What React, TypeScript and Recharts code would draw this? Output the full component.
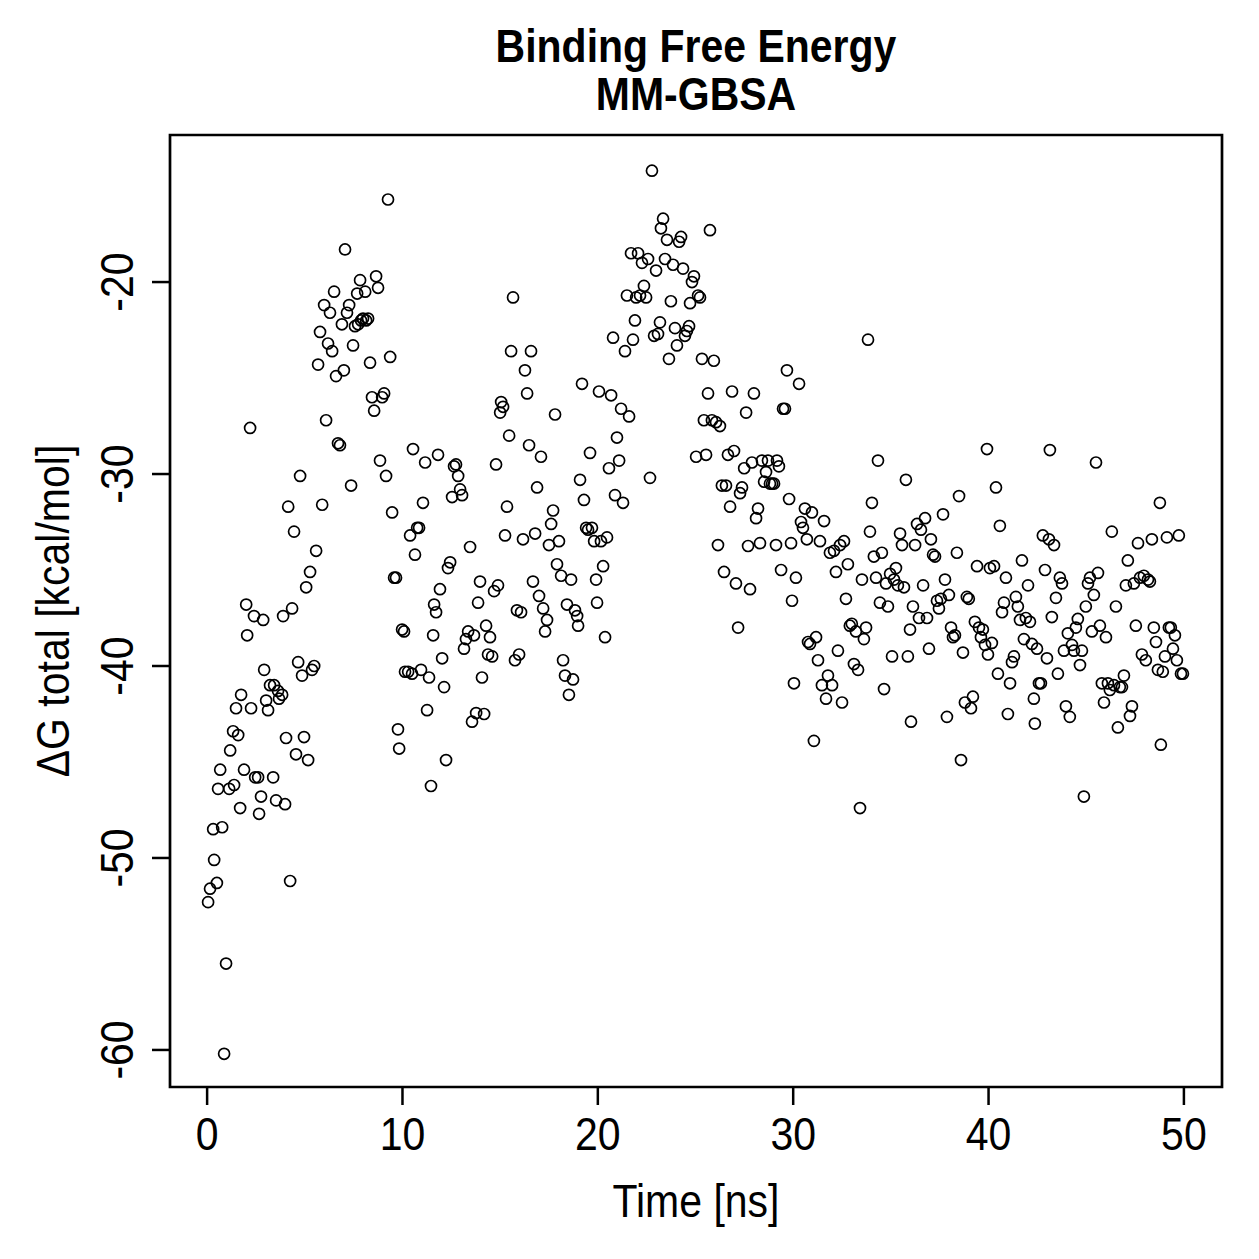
import { ReferenceArea, Scatter, ScatterChart, XAxis, YAxis } from "recharts";

// MM-GBSA binding free energy per frame: [time (ns), ΔG total (kcal/mol)]
const span00to05 = [
    [0.05, -52.3], [0.15, -51.6], [0.31, -48.5], [0.36, -50.1], [0.5, -51.3], [0.56, -46.4],
    [0.67, -45.4], [0.77, -48.4], [0.87, -60.2], [0.97, -55.5], [1.13, -46.4], [1.18, -44.4],
    [1.33, -43.4], [1.38, -46.2], [1.48, -42.2], [1.59, -43.6], [1.69, -47.4], [1.74, -41.5],
    [1.89, -45.4], [2.0, -36.8], [2.05, -38.4], [2.2, -27.6], [2.25, -42.2], [2.4, -37.4],
    [2.46, -45.8], [2.61, -45.8], [2.66, -47.7], [2.76, -46.8], [2.87, -37.6], [2.92, -40.2],
    [3.02, -41.8], [3.12, -42.3], [3.22, -41.0], [3.38, -45.8], [3.43, -41.0], [3.53, -47.0],
    [3.63, -41.3], [3.68, -41.7], [3.84, -41.5], [3.89, -37.4], [3.99, -47.2], [4.04, -43.75],
    [4.15, -31.7], [4.25, -51.2], [4.35, -37.0], [4.45, -33.0], [4.55, -44.6], [4.66, -39.8],
    [4.76, -30.1], [4.86, -40.5], [4.96, -43.7],
];

const span05to10 = [
    [5.07, -35.9], [5.17, -44.9], [5.27, -35.1], [5.37, -40.2], [5.48, -40.0], [5.58, -34.0],
    [5.68, -24.3], [5.78, -22.6], [5.89, -31.6], [5.99, -21.2], [6.09, -27.2], [6.19, -23.2],
    [6.29, -21.6], [6.4, -23.6], [6.5, -20.5], [6.6, -24.9], [6.7, -28.4], [6.8, -28.5],
    [6.9, -22.2], [7.0, -24.6], [7.06, -18.3], [7.16, -21.6], [7.27, -21.2], [7.37, -30.6],
    [7.47, -23.3], [7.57, -22.3], [7.68, -20.6], [7.73, -22.2], [7.83, -19.9], [7.88, -22.0],
    [7.98, -21.9], [8.09, -20.5], [8.14, -22.0], [8.24, -21.9], [8.34, -24.2], [8.44, -26.0],
    [8.55, -26.7], [8.65, -19.7], [8.75, -20.3], [8.85, -29.3], [8.96, -26.0], [9.06, -25.8],
    [9.16, -30.1], [9.26, -15.7], [9.37, -23.9], [9.47, -32.0], [9.57, -35.4], [9.67, -35.4],
    [9.77, -43.3], [9.83, -44.3], [9.98, -38.1],
];

const span10to15 = [
    [10.08, -38.2], [10.13, -40.3], [10.29, -40.3], [10.39, -33.2], [10.49, -40.4], [10.54, -28.7],
    [10.64, -34.2], [10.75, -32.8], [10.85, -32.8], [10.95, -40.2], [11.05, -31.5], [11.16, -29.4],
    [11.26, -42.3], [11.36, -40.6], [11.46, -46.25], [11.57, -38.4], [11.62, -36.8], [11.72, -37.2],
    [11.82, -29.0], [11.92, -36.0], [12.03, -39.6], [12.13, -41.1], [12.23, -44.9], [12.33, -34.9],
    [12.44, -34.6], [12.54, -31.2], [12.64, -29.6], [12.74, -29.5], [12.85, -30.1], [12.95, -30.8],
    [13.05, -31.1], [13.15, -39.1], [13.25, -38.6], [13.36, -38.2], [13.46, -33.8], [13.56, -42.9],
    [13.66, -38.4], [13.77, -42.45], [13.87, -36.7], [13.97, -35.6], [14.07, -40.6], [14.18, -42.5],
    [14.28, -37.9], [14.38, -39.4], [14.48, -38.5], [14.59, -39.5], [14.69, -36.1], [14.79, -29.5],
    [14.89, -35.8], [15.0, -26.8],
];

const span15to20 = [
    [15.05, -26.25], [15.15, -26.5], [15.25, -33.2], [15.35, -31.7], [15.46, -28.0], [15.56, -23.6],
    [15.66, -20.8], [15.76, -39.7], [15.86, -37.1], [15.97, -39.4], [16.07, -37.2], [16.17, -33.4],
    [16.27, -24.6], [16.38, -25.8], [16.48, -28.5], [16.58, -23.6], [16.68, -35.6], [16.79, -33.1],
    [16.89, -30.7], [16.99, -36.35], [17.09, -29.1], [17.2, -37.0], [17.3, -38.2], [17.4, -37.6],
    [17.5, -33.7], [17.61, -32.6], [17.71, -31.9], [17.81, -26.9], [17.91, -34.7], [18.01, -33.5],
    [18.12, -35.3], [18.22, -39.7], [18.32, -40.5], [18.42, -36.8], [18.52, -41.5], [18.63, -35.5],
    [18.73, -40.7], [18.83, -37.1], [18.94, -37.4], [18.99, -37.9], [19.09, -30.3], [19.19, -25.3],
    [19.29, -31.35], [19.4, -32.8], [19.5, -32.9], [19.6, -28.9], [19.7, -32.8], [19.81, -33.5],
    [19.91, -35.5], [19.96, -36.7],
];

const span20to25 = [
    [20.06, -25.7], [20.16, -33.5], [20.27, -34.8], [20.37, -38.5], [20.47, -33.3], [20.57, -29.7],
    [20.68, -25.9], [20.78, -22.9], [20.88, -31.1], [20.98, -28.1], [21.09, -29.3], [21.19, -26.6],
    [21.29, -31.5], [21.39, -23.6], [21.49, -20.7], [21.6, -27.0], [21.7, -18.5], [21.8, -23.0],
    [21.9, -22.0], [21.96, -20.8], [22.06, -18.5], [22.16, -20.7], [22.26, -19.0], [22.36, -20.2],
    [22.47, -20.8], [22.57, -18.8], [22.67, -30.2], [22.77, -14.2], [22.88, -22.8], [22.98, -19.4],
    [23.08, -22.7], [23.18, -22.1], [23.23, -17.2], [23.34, -16.7], [23.44, -18.8], [23.54, -17.8],
    [23.64, -24.0], [23.74, -21.0], [23.85, -19.1], [23.95, -22.4], [24.05, -23.3], [24.16, -17.9],
    [24.26, -17.65], [24.36, -19.3], [24.46, -22.8], [24.56, -22.55], [24.67, -22.3], [24.72, -21.1],
    [24.82, -20.0], [24.92, -19.7],
];

const span25to30 = [
    [25.03, -29.1], [25.13, -20.7], [25.23, -20.8], [25.33, -24.0], [25.43, -27.2], [25.54, -29.0],
    [25.64, -25.8], [25.74, -17.3], [25.84, -27.2], [25.94, -24.1], [26.05, -27.3], [26.15, -33.7],
    [26.25, -27.5], [26.35, -30.6], [26.46, -35.1], [26.56, -30.6], [26.66, -29.0], [26.77, -31.7],
    [26.87, -25.7], [26.97, -28.8], [27.07, -35.7], [27.18, -38.0], [27.28, -31.0], [27.38, -30.7],
    [27.49, -29.7], [27.59, -26.8], [27.69, -33.75], [27.79, -36.0], [27.89, -29.4], [27.99, -25.8],
    [28.1, -32.3], [28.2, -31.8], [28.3, -33.6], [28.4, -29.3], [28.51, -30.4], [28.61, -29.9],
    [28.71, -29.3], [28.81, -30.5], [28.92, -30.5], [29.02, -30.5], [29.12, -33.7], [29.17, -29.3],
    [29.27, -29.6], [29.38, -35.0], [29.48, -26.6], [29.58, -26.6], [29.68, -24.6], [29.79, -31.3],
    [29.89, -33.6], [29.94, -36.6],
];

const span30to35 = [
    [30.04, -40.9], [30.14, -35.4], [30.3, -25.3], [30.4, -32.5], [30.5, -32.8], [30.6, -31.8],
    [30.7, -33.4], [30.76, -38.75], [30.86, -38.85], [30.96, -32.0], [31.06, -43.9], [31.17, -38.5],
    [31.27, -39.7], [31.37, -33.5], [31.47, -41.0], [31.58, -32.45], [31.68, -41.7], [31.78, -40.5],
    [31.88, -34.1], [31.99, -41.0], [32.09, -34.0], [32.19, -35.1], [32.29, -39.2], [32.4, -33.7],
    [32.5, -41.9], [32.6, -33.5], [32.7, -36.5], [32.8, -34.7], [32.9, -37.9], [33.0, -37.8],
    [33.11, -39.9], [33.21, -38.2], [33.32, -40.2], [33.42, -47.4], [33.52, -35.5], [33.62, -38.6],
    [33.73, -38.0], [33.83, -23.0], [33.93, -33.0], [34.03, -31.5], [34.13, -34.3], [34.24, -35.4],
    [34.34, -29.3], [34.44, -36.7], [34.54, -34.1], [34.65, -41.2], [34.75, -35.7], [34.85, -36.9],
    [34.96, -35.2],
];

const span35to40 = [
    [35.06, -39.5], [35.16, -35.5], [35.26, -34.9], [35.36, -35.8], [35.47, -33.1], [35.57, -33.7],
    [35.67, -35.9], [35.77, -30.3], [35.87, -39.5], [35.98, -38.1], [36.03, -42.9], [36.13, -36.9],
    [36.24, -33.7], [36.34, -32.6], [36.44, -37.5], [36.54, -32.9], [36.65, -35.8], [36.75, -32.3],
    [36.85, -37.5], [36.95, -39.1], [37.05, -33.4], [37.16, -34.2], [37.26, -34.3], [37.36, -36.6],
    [37.46, -37.0], [37.56, -36.5], [37.67, -32.1], [37.77, -35.5], [37.87, -42.65], [37.97, -36.3],
    [38.08, -38.0], [38.18, -38.5], [38.28, -38.4], [38.38, -34.1], [38.49, -31.15], [38.59, -44.9],
    [38.69, -39.3], [38.79, -41.9], [38.89, -36.4], [38.99, -36.5], [39.1, -42.2], [39.2, -41.6],
    [39.3, -37.7], [39.41, -34.8], [39.51, -38.0], [39.61, -38.5], [39.71, -38.1], [39.82, -38.9],
    [39.92, -28.7], [39.97, -39.4],
];

const span40to45 = [
    [40.07, -34.9], [40.17, -38.8], [40.28, -34.8], [40.38, -30.7], [40.48, -40.4], [40.58, -32.7],
    [40.69, -37.2], [40.79, -36.7], [40.89, -35.4], [40.99, -42.5], [41.1, -40.9], [41.2, -39.8],
    [41.3, -39.5], [41.4, -36.4], [41.5, -36.9], [41.61, -37.6], [41.71, -34.5], [41.81, -38.6],
    [41.91, -37.5], [42.02, -35.8], [42.12, -37.7], [42.22, -38.85], [42.32, -41.7], [42.37, -43.0],
    [42.48, -39.1], [42.58, -40.9], [42.68, -40.9], [42.78, -33.2], [42.89, -35.0], [42.99, -39.6],
    [43.09, -33.4], [43.14, -28.75], [43.24, -37.45], [43.35, -33.7], [43.45, -36.45], [43.55, -40.4],
    [43.65, -35.4], [43.76, -35.7], [43.86, -39.2], [43.96, -42.1], [44.06, -38.3], [44.16, -42.65],
    [44.27, -38.9], [44.37, -39.2], [44.47, -38.0], [44.57, -37.55], [44.68, -39.95], [44.78, -39.2],
    [44.88, -46.8], [44.98, -36.9],
];

const span45to50 = [
    [45.09, -35.7], [45.19, -35.4], [45.29, -38.2], [45.39, -36.3], [45.5, -29.4], [45.6, -35.15],
    [45.7, -37.9], [45.8, -40.9], [45.91, -41.9], [46.01, -38.5], [46.11, -40.9], [46.21, -41.25],
    [46.31, -33.0], [46.42, -41.0], [46.52, -36.9], [46.62, -43.2], [46.72, -41.1], [46.83, -41.1],
    [46.93, -40.5], [47.03, -35.8], [47.13, -34.5], [47.24, -42.6], [47.34, -42.1], [47.44, -35.7],
    [47.54, -37.9], [47.65, -33.6], [47.75, -35.4], [47.85, -39.4], [47.95, -35.3], [48.05, -39.7],
    [48.16, -35.5], [48.26, -35.6], [48.36, -33.4], [48.46, -38.0], [48.57, -38.75], [48.67, -40.2],
    [48.77, -31.5], [48.82, -44.1], [48.92, -40.3], [49.03, -39.5], [49.13, -33.3], [49.23, -38.0],
    [49.33, -38.0], [49.44, -39.1], [49.54, -38.4], [49.64, -39.7], [49.74, -33.2], [49.85, -40.4],
    [49.95, -40.4],
];

const xTicks = [0, 10, 20, 30, 40, 50];
const yTicks = [-60, -50, -40, -30, -20];

// R-style axis limits: data range padded by 4% on each side
const xDomain = [-1.9, 51.95];
const yDomain = [-61.93, -12.34];

const frames = [
    ...span00to05, ...span05to10, ...span10to15, ...span15to20, ...span20to25,
    ...span25to30, ...span30to35, ...span35to40, ...span40to45, ...span45to50,
].map(([time, dG]) => ({ time, dG }));

const FONT = "'Liberation Sans', Arial, Helvetica, sans-serif";
const W = 1259;
const H = 1259;
// glyphs are drawn slightly taller than wide, like the R png device output
const STRETCH = 1.12;

// pch = 1: open circle
const openCircle = (props: any) => {
    if (props.cx == null || props.cy == null) return <g />;
    return <circle cx={props.cx} cy={props.cy} r={5.5} fill="none" stroke="#000" strokeWidth={1.7} />;
};

const Label = ({ x, y, angle = 0, bold = false, children }: any) => (
    <text
        transform={`translate(${x}, ${y}) rotate(${angle}) scale(1, ${STRETCH})`}
        textAnchor="middle"
        fontSize={41}
        fontWeight={bold ? "bold" : "normal"}
        fontFamily={FONT}
        fill="#000"
    >
        {children}
    </text>
);

const XTick = (props: any) => <Label x={props.x} y={1150}>{props.payload.value}</Label>;

const YTick = (props: any) => (
    <Label x={133} y={props.y} angle={-90}>
        {props.payload.value}
    </Label>
);

export default function App() {
    return (
        <div style={{ position: "absolute", left: 0, top: 0, width: W, height: H, background: "#fff" }}>
            <ScatterChart
                width={W}
                height={H}
                margin={{ top: 135, right: 37, bottom: 112, left: 110 }}
            >
                <XAxis
                    type="number"
                    dataKey="time"
                    domain={xDomain}
                    ticks={xTicks}
                    allowDataOverflow
                    height={60}
                    axisLine={false}
                    tickLine={{ stroke: "#000", strokeWidth: 2.5 }}
                    tickSize={18}
                    tick={<XTick />}
                    interval={0}
                />
                <YAxis
                    type="number"
                    dataKey="dG"
                    domain={yDomain}
                    ticks={yTicks}
                    allowDataOverflow
                    width={60}
                    axisLine={false}
                    tickLine={{ stroke: "#000", strokeWidth: 2.5 }}
                    tickSize={18}
                    tick={<YTick />}
                    interval={0}
                />
                <ReferenceArea
                    x1={xDomain[0]}
                    x2={xDomain[1]}
                    y1={yDomain[0]}
                    y2={yDomain[1]}
                    fill="none"
                    fillOpacity={0}
                    stroke="#000"
                    strokeWidth={2.7}
                    ifOverflow="visible"
                />
                <Scatter data={frames} shape={openCircle} isAnimationActive={false} />
            </ScatterChart>
            <svg
                width={W}
                height={H}
                style={{ position: "absolute", left: 0, top: 0, pointerEvents: "none" }}
            >
                <Label x={696} y={62} bold>Binding Free Energy</Label>
                <Label x={696} y={110} bold>MM-GBSA</Label>
                <Label x={696} y={1217}>Time [ns]</Label>
                <Label x={69} y={611} angle={-90}>ΔG total [kcal/mol]</Label>
            </svg>
        </div>
    );
}
